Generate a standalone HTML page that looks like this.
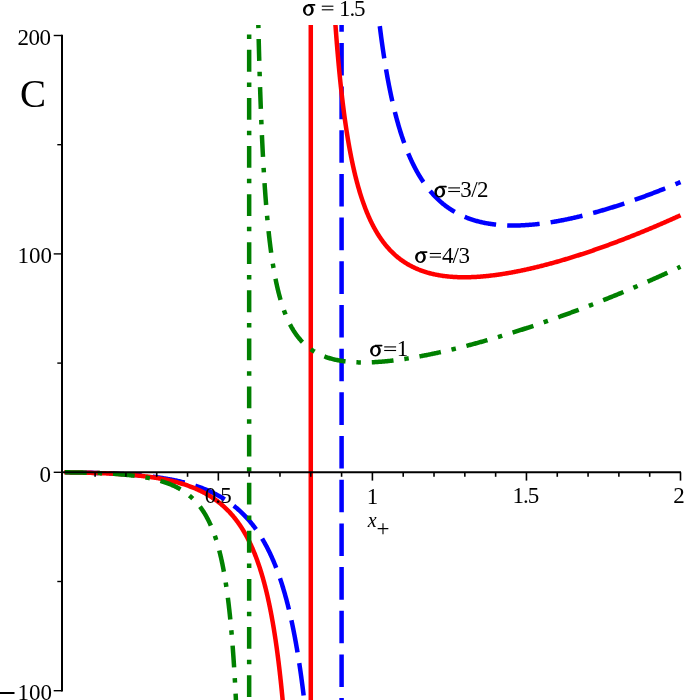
<!DOCTYPE html>
<html><head><meta charset="utf-8"><style>
html,body{margin:0;padding:0;background:#fff;overflow:hidden}
svg{display:block}
</style></head><body>
<svg width="685" height="700" viewBox="0 0 685 700">
<defs><clipPath id="c"><rect x="0" y="25" width="685" height="690"/></clipPath></defs>
<rect width="685" height="700" fill="#fff"/>
<g clip-path="url(#c)" fill="none" stroke-width="4.5" stroke-linejoin="round">
<path d="M64.30,472.30 L65.22,472.31 L66.15,472.32 L67.07,472.34 L68.00,472.35 L68.92,472.37 L69.85,472.38 L70.77,472.40 L71.69,472.41 L72.62,472.43 L73.54,472.44 L74.47,472.46 L75.39,472.47 L76.32,472.49 L77.24,472.51 L78.16,472.53 L79.09,472.54 L80.01,472.56 L80.94,472.58 L81.86,472.60 L82.79,472.62 L83.71,472.64 L84.63,472.66 L85.56,472.68 L86.48,472.70 L87.41,472.72 L88.33,472.74 L89.26,472.76 L90.18,472.78 L91.11,472.81 L92.03,472.83 L92.95,472.86 L93.88,472.88 L94.80,472.91 L95.73,472.93 L96.65,472.96 L97.58,472.99 L98.50,473.01 L99.42,473.04 L100.35,473.07 L101.27,473.10 L102.20,473.13 L103.12,473.16 L104.05,473.20 L104.97,473.23 L105.89,473.26 L106.82,473.30 L107.74,473.34 L108.67,473.37 L109.59,473.41 L110.52,473.45 L111.44,473.49 L112.36,473.53 L113.29,473.57 L114.21,473.61 L115.14,473.66 L116.06,473.70 L116.99,473.75 L117.91,473.80 L118.83,473.85 L119.76,473.90 L120.68,473.95 L121.61,474.00 L122.53,474.05 L123.46,474.11 L124.38,474.16 L125.30,474.22 L126.23,474.28 L127.15,474.34 L128.08,474.40 L129.00,474.47 L129.93,474.53 L130.85,474.60 L131.77,474.67 L132.70,474.74 L133.62,474.81 L134.55,474.88 L135.47,474.96 L136.40,475.03 L137.32,475.11 L138.24,475.19 L139.16,475.27 L140.08,475.36 L140.99,475.44 L141.91,475.53 L142.82,475.62 L143.73,475.71 L144.64,475.80 L145.54,475.90 L146.45,475.99 L147.35,476.09 L148.25,476.19 L149.15,476.29 L150.05,476.40 L150.94,476.50 L151.84,476.61 L152.73,476.72 L153.61,476.83 L154.50,476.95 L155.39,477.07 L156.27,477.18 L157.15,477.30 L158.03,477.43 L158.90,477.55 L159.78,477.68 L160.65,477.81 L161.52,477.94 L162.38,478.08 L163.25,478.21 L164.11,478.35 L164.97,478.50 L165.83,478.64 L166.68,478.79 L167.54,478.93 L168.39,479.09 L169.23,479.24 L170.08,479.40 L170.92,479.56 L171.76,479.72 L172.60,479.88 L173.43,480.05 L174.27,480.22 L175.10,480.39 L175.92,480.56 L176.75,480.74 L177.57,480.92 L178.39,481.10 L179.20,481.29 L180.02,481.48 L180.83,481.67 L181.64,481.86 L182.44,482.06 L183.24,482.26 L184.04,482.46 L184.84,482.67 L185.63,482.87 L186.42,483.09 L187.21,483.30 L188.00,483.52 L188.78,483.74 L189.56,483.96 L190.33,484.18 L191.11,484.41 L191.88,484.65 L192.64,484.88 L193.41,485.12 L194.17,485.36 L194.92,485.60 L195.68,485.85 L196.43,486.10 L197.18,486.36 L197.92,486.61 L198.67,486.87 L199.41,487.14 L200.14,487.40 L200.87,487.67 L201.60,487.94 L202.33,488.22 L203.05,488.50 L203.77,488.78 L204.49,489.07 L205.20,489.36 L205.91,489.65 L206.62,489.94 L207.32,490.24 L208.02,490.55 L208.72,490.85 L209.41,491.16 L210.10,491.47 L210.79,491.79 L211.47,492.11 L212.16,492.43 L212.83,492.75 L213.51,493.08 L214.18,493.42 L214.84,493.75 L215.51,494.09 L216.17,494.43 L216.82,494.78 L217.48,495.13 L218.13,495.48 L218.77,495.84 L219.42,496.20 L220.06,496.56 L220.69,496.92 L221.33,497.29 L221.96,497.67 L222.58,498.04 L223.20,498.42 L223.82,498.81 L224.44,499.19 L225.05,499.58 L225.66,499.98 L226.27,500.37 L226.87,500.77 L227.47,501.18 L228.07,501.58 L228.66,502.00 L229.25,502.41 L229.83,502.83 L230.41,503.25 L230.99,503.67 L231.57,504.10 L232.14,504.53 L232.71,504.96 L233.28,505.40 L233.84,505.84 L234.40,506.29 L234.95,506.73 L235.50,507.18 L236.05,507.64 L236.60,508.10 L237.14,508.56 L237.68,509.02 L238.21,509.49 L238.75,509.96 L239.28,510.43 L239.80,510.91 L240.32,511.39 L240.84,511.88 L241.36,512.36 L241.87,512.85 L242.38,513.35 L242.89,513.84 L243.39,514.34 L243.89,514.85 L244.39,515.35 L244.88,515.86 L245.37,516.38 L245.86,516.89 L246.34,517.41 L246.82,517.93 L247.30,518.46 L247.78,518.99 L248.25,519.52 L248.72,520.05 L249.18,520.59 L249.64,521.13 L250.10,521.68 L250.56,522.22 L251.01,522.77 L251.46,523.33 L251.91,523.88 L252.36,524.44 L252.80,525.00 L253.24,525.57 L253.67,526.13 L254.11,526.70 L254.54,527.28 L254.96,527.85 L255.39,528.43 L255.81,529.02 L256.23,529.60 L256.64,530.19 L257.06,530.78 L257.47,531.37 L257.87,531.97 L258.28,532.57 L258.68,533.17 L259.08,533.77 L259.48,534.38 L259.87,534.99 L260.26,535.60 L260.65,536.22 L261.04,536.83 L261.42,537.45 L261.80,538.08 L262.18,538.70 L262.55,539.33 L262.93,539.96 L263.30,540.59 L263.66,541.23 L264.03,541.87 L264.39,542.51 L264.75,543.15 L265.11,543.80 L265.46,544.45 L265.82,545.10 L266.17,545.75 L266.52,546.40 L266.86,547.06 L267.20,547.72 L267.55,548.38 L267.88,549.05 L268.22,549.72 L268.55,550.39 L268.89,551.06 L269.22,551.73 L269.54,552.41 L269.87,553.09 L270.19,553.77 L270.51,554.45 L270.83,555.14 L271.14,555.82 L271.46,556.51 L271.77,557.21 L272.08,557.90 L272.39,558.59 L272.69,559.29 L273.00,559.99 L273.30,560.70 L273.60,561.40 L273.89,562.11 L274.19,562.81 L274.48,563.53 L274.77,564.24 L275.06,564.95 L275.35,565.67 L275.63,566.39 L275.92,567.11 L276.20,567.83 L276.48,568.55 L276.75,569.28 L277.03,570.01 L277.30,570.74 L277.57,571.47 L277.84,572.20 L278.11,572.94 L278.38,573.67 L278.64,574.41 L278.91,575.15 L279.17,575.90 L279.43,576.64 L279.68,577.39 L279.94,578.13 L280.19,578.88 L280.45,579.64 L280.70,580.39 L280.95,581.14 L281.19,581.90 L281.44,582.66 L281.68,583.42 L281.92,584.18 L282.16,584.94 L282.40,585.70 L282.64,586.47 L282.88,587.24 L283.11,588.01 L283.34,588.78 L283.58,589.55 L283.81,590.32 L284.03,591.10 L284.26,591.87 L284.49,592.65 L284.71,593.43 L284.93,594.21 L285.15,595.00 L285.37,595.78 L285.59,596.56 L285.81,597.35 L286.02,598.14 L286.23,598.93 L286.45,599.72 L286.66,600.51 L286.87,601.31 L287.08,602.10 L287.28,602.90 L287.49,603.70 L287.69,604.49 L287.90,605.29 L288.10,606.10 L288.30,606.90 L288.50,607.70 L288.69,608.51 L288.89,609.32 L289.09,610.12 L289.28,610.93 L289.47,611.74 L289.66,612.56 L289.85,613.37 L290.04,614.18 L290.23,615.00 L290.42,615.81 L290.60,616.63 L290.79,617.45 L290.97,618.27 L291.15,619.09 L291.33,619.91 L291.51,620.74 L291.69,621.56 L291.87,622.39 L292.05,623.21 L292.22,624.04 L292.40,624.87 L292.57,625.70 L292.74,626.53 L292.91,627.36 L293.08,628.20 L293.25,629.03 L293.42,629.87 L293.59,630.70 L293.75,631.54 L293.92,632.38 L294.08,633.22 L294.24,634.06 L294.41,634.90 L294.57,635.74 L294.73,636.58 L294.89,637.43 L295.04,638.27 L295.20,639.12 L295.36,639.96 L295.51,640.81 L295.67,641.66 L295.82,642.51 L295.97,643.36 L296.12,644.21 L296.27,645.06 L296.42,645.92 L296.57,646.77 L296.72,647.63 L296.87,648.48 L297.01,649.34 L297.16,650.20 L297.30,651.05 L297.45,651.91 L297.59,652.77 L297.73,653.63 L297.87,654.50 L298.01,655.36 L298.15,656.22 L298.29,657.09 L298.43,657.95 L298.57,658.82 L298.70,659.68 L298.84,660.55 L298.98,661.42 L299.11,662.29 L299.24,663.16 L299.38,664.03 L299.51,664.90 L299.64,665.77 L299.77,666.64 L299.90,667.52 L300.03,668.39 L300.16,669.26 L300.28,670.14 L300.41,671.02 L300.54,671.89 L300.66,672.77 L300.79,673.65 L300.91,674.53 L301.03,675.41 L301.16,676.29 L301.28,677.17 L301.40,678.05 L301.52,678.93 L301.64,679.81 L301.76,680.70 L301.88,681.58 L301.99,682.47 L302.11,683.35 L302.23,684.24 L302.34,685.12 L302.46,686.01 L302.57,686.90 L302.69,687.79 L302.80,688.68 L302.92,689.57 L303.03,690.46 L303.14,691.35 L303.25,692.24 L303.36,693.13 L303.47,694.02 L303.58,694.92 L303.69,695.81 L303.80,696.71 L303.91,697.60 L304.01,698.50 L304.12,699.39 L304.22,700.29 L304.33,701.19 L304.43,702.08 L304.54,702.98 L304.64,703.88 L304.75,704.78 L304.85,705.68 L304.95,706.58 L305.05,707.48 L305.15,708.38 L305.25,709.29 L305.35,710.19 L305.45,711.09 L305.55,711.99 L305.65,712.90 L305.75,713.80 L305.85,714.71 L305.94,715.61" stroke="#0000ff" stroke-dasharray="32.5 11.1" stroke-dashoffset="42.20"/>
<path d="M341.59,25 L341.59,705" stroke="#0000ff" stroke-dasharray="32.6 11.08" stroke-dashoffset="25.78"/>
<path d="M377.87,9.86 L377.97,10.76 L378.07,11.66 L378.17,12.56 L378.27,13.46 L378.38,14.36 L378.48,15.26 L378.58,16.16 L378.69,17.06 L378.79,17.96 L378.90,18.86 L379.01,19.75 L379.11,20.65 L379.22,21.54 L379.33,22.44 L379.44,23.33 L379.54,24.23 L379.65,25.12 L379.76,26.01 L379.88,26.90 L379.99,27.80 L380.10,28.69 L380.21,29.58 L380.32,30.47 L380.44,31.35 L380.55,32.24 L380.67,33.13 L380.78,34.02 L380.90,34.90 L381.02,35.79 L381.13,36.68 L381.25,37.56 L381.37,38.44 L381.49,39.33 L381.61,40.21 L381.73,41.09 L381.85,41.97 L381.98,42.85 L382.10,43.73 L382.22,44.61 L382.35,45.49 L382.47,46.37 L382.60,47.25 L382.72,48.12 L382.85,49.00 L382.98,49.87 L383.11,50.75 L383.24,51.62 L383.37,52.49 L383.50,53.37 L383.63,54.24 L383.76,55.11 L383.89,55.98 L384.03,56.85 L384.16,57.71 L384.30,58.58 L384.43,59.45 L384.57,60.31 L384.71,61.18 L384.85,62.04 L384.99,62.91 L385.13,63.77 L385.27,64.63 L385.41,65.49 L385.55,66.35 L385.70,67.21 L385.84,68.07 L385.99,68.93 L386.13,69.79 L386.28,70.64 L386.43,71.50 L386.58,72.35 L386.73,73.20 L386.88,74.06 L387.03,74.91 L387.18,75.76 L387.33,76.61 L387.49,77.46 L387.64,78.30 L387.80,79.15 L387.96,80.00 L388.12,80.84 L388.27,81.69 L388.43,82.53 L388.60,83.37 L388.76,84.21 L388.92,85.05 L389.09,85.89 L389.25,86.73 L389.42,87.57 L389.58,88.40 L389.75,89.24 L389.92,90.07 L390.09,90.90 L390.26,91.73 L390.44,92.57 L390.61,93.39 L390.78,94.22 L390.96,95.05 L391.14,95.88 L391.31,96.70 L391.49,97.53 L391.67,98.35 L391.86,99.17 L392.04,99.99 L392.22,100.81 L392.41,101.63 L392.59,102.45 L392.78,103.26 L392.97,104.08 L393.16,104.89 L393.35,105.70 L393.54,106.51 L393.74,107.32 L393.93,108.13 L394.13,108.94 L394.33,109.74 L394.52,110.55 L394.72,111.35 L394.93,112.15 L395.13,112.95 L395.33,113.75 L395.54,114.55 L395.75,115.35 L395.95,116.14 L396.16,116.94 L396.37,117.73 L396.59,118.52 L396.80,119.31 L397.02,120.10 L397.23,120.88 L397.45,121.67 L397.67,122.45 L397.89,123.23 L398.12,124.01 L398.34,124.79 L398.57,125.57 L398.79,126.35 L399.02,127.12 L399.25,127.89 L399.48,128.67 L399.72,129.44 L399.95,130.20 L400.19,130.97 L400.43,131.73 L400.67,132.50 L400.91,133.26 L401.15,134.02 L401.40,134.78 L401.65,135.53 L401.89,136.29 L402.15,137.04 L402.40,137.79 L402.65,138.54 L402.91,139.29 L403.16,140.04 L403.42,140.78 L403.69,141.52 L403.95,142.26 L404.21,143.00 L404.48,143.74 L404.75,144.47 L405.02,145.21 L405.29,145.94 L405.57,146.67 L405.84,147.39 L406.12,148.12 L406.40,148.84 L406.68,149.56 L406.97,150.28 L407.26,151.00 L407.54,151.71 L407.83,152.43 L408.13,153.14 L408.42,153.85 L408.72,154.55 L409.02,155.26 L409.32,155.96 L409.62,156.66 L409.93,157.36 L410.24,158.05 L410.55,158.75 L410.86,159.44 L411.18,160.13 L411.49,160.81 L411.81,161.50 L412.13,162.18 L412.46,162.86 L412.78,163.54 L413.11,164.21 L413.45,164.88 L413.78,165.55 L414.12,166.22 L414.45,166.88 L414.80,167.55 L415.14,168.21 L415.49,168.86 L415.84,169.52 L416.19,170.17 L416.54,170.82 L416.90,171.47 L417.26,172.11 L417.62,172.75 L417.98,173.39 L418.35,174.03 L418.72,174.66 L419.10,175.29 L419.47,175.92 L419.85,176.54 L420.23,177.17 L420.62,177.79 L421.00,178.40 L421.39,179.02 L421.79,179.63 L422.18,180.23 L422.58,180.84 L422.98,181.44 L423.39,182.04 L423.80,182.64 L424.21,183.23 L424.62,183.82 L425.04,184.40 L425.46,184.99 L425.88,185.57 L426.31,186.14 L426.74,186.72 L427.17,187.29 L427.61,187.86 L428.05,188.42 L428.49,188.98 L428.94,189.54 L429.39,190.09 L429.84,190.64 L430.30,191.19 L430.76,191.73 L431.22,192.27 L431.69,192.81 L432.16,193.35 L432.63,193.88 L433.11,194.40 L433.59,194.92 L434.07,195.44 L434.56,195.96 L435.05,196.47 L435.55,196.98 L436.05,197.48 L436.55,197.98 L437.06,198.48 L437.57,198.98 L438.08,199.46 L438.60,199.95 L439.12,200.43 L439.65,200.91 L440.18,201.38 L440.71,201.86 L441.25,202.32 L441.79,202.78 L442.34,203.24 L442.88,203.70 L443.44,204.15 L444.00,204.59 L444.56,205.03 L445.12,205.47 L445.69,205.91 L446.27,206.34 L446.84,206.76 L447.43,207.18 L448.01,207.60 L448.60,208.01 L449.20,208.42 L449.80,208.83 L450.40,209.23 L451.01,209.62 L451.62,210.01 L452.24,210.40 L452.86,210.78 L453.49,211.16 L454.12,211.53 L454.75,211.90 L455.39,212.27 L456.03,212.63 L456.68,212.98 L457.33,213.33 L457.99,213.68 L458.65,214.02 L459.32,214.36 L459.99,214.69 L460.66,215.02 L461.35,215.34 L462.03,215.66 L462.72,215.97 L463.41,216.28 L464.11,216.59 L464.82,216.89 L465.53,217.18 L466.24,217.47 L466.96,217.76 L467.68,218.04 L468.41,218.31 L469.14,218.58 L469.88,218.85 L470.63,219.11 L471.37,219.36 L472.13,219.61 L472.88,219.86 L473.65,220.10 L474.42,220.33 L475.19,220.56 L475.97,220.79 L476.75,221.01 L477.54,221.22 L478.33,221.43 L479.13,221.64 L479.93,221.84 L480.74,222.03 L481.55,222.22 L482.37,222.41 L483.20,222.59 L484.03,222.76 L484.86,222.93 L485.70,223.09 L486.55,223.25 L487.40,223.40 L488.25,223.55 L489.11,223.69 L489.98,223.83 L490.85,223.96 L491.73,224.09 L492.61,224.21 L493.49,224.33 L494.39,224.44 L495.28,224.54 L496.19,224.64 L497.10,224.74 L498.01,224.83 L498.93,224.91 L499.85,224.99 L500.78,225.06 L501.70,225.13 L502.63,225.19 L503.55,225.25 L504.47,225.30 L505.40,225.34 L506.32,225.38 L507.25,225.42 L508.17,225.44 L509.10,225.47 L510.02,225.49 L510.94,225.50 L511.87,225.51 L512.79,225.52 L513.72,225.52 L514.64,225.51 L515.57,225.50 L516.49,225.49 L517.41,225.47 L518.34,225.45 L519.26,225.42 L520.19,225.39 L521.11,225.36 L522.04,225.32 L522.96,225.28 L523.88,225.23 L524.81,225.18 L525.73,225.12 L526.66,225.06 L527.58,225.00 L528.51,224.93 L529.43,224.86 L530.35,224.79 L531.27,224.71 L532.19,224.63 L533.11,224.55 L534.02,224.46 L534.93,224.37 L535.83,224.27 L536.73,224.18 L537.63,224.08 L538.53,223.98 L539.42,223.87 L540.31,223.77 L541.20,223.66 L542.09,223.54 L542.97,223.43 L543.85,223.31 L544.73,223.19 L545.61,223.07 L546.48,222.94 L547.35,222.82 L548.22,222.69 L549.09,222.55 L549.95,222.42 L550.82,222.28 L551.68,222.15 L552.54,222.01 L553.39,221.86 L554.25,221.72 L555.10,221.57 L555.95,221.43 L556.80,221.27 L557.65,221.12 L558.49,220.97 L559.33,220.81 L560.17,220.66 L561.01,220.50 L561.85,220.33 L562.69,220.17 L563.52,220.01 L564.36,219.84 L565.19,219.67 L566.02,219.50 L566.84,219.33 L567.67,219.16 L568.50,218.99 L569.32,218.81 L570.14,218.63 L570.96,218.45 L571.78,218.27 L572.60,218.09 L573.41,217.91 L574.23,217.72 L575.04,217.54 L575.85,217.35 L576.66,217.16 L577.47,216.97 L578.28,216.78 L579.08,216.59 L579.89,216.39 L580.69,216.20 L581.50,216.00 L582.30,215.80 L583.10,215.60 L583.90,215.40 L584.69,215.20 L585.49,215.00 L586.29,214.79 L587.08,214.59 L587.87,214.38 L588.66,214.17 L589.45,213.97 L590.24,213.76 L591.03,213.54 L591.82,213.33 L592.61,213.12 L593.39,212.91 L594.17,212.69 L594.96,212.47 L595.74,212.26 L596.52,212.04 L597.30,211.82 L598.08,211.60 L598.86,211.38 L599.63,211.15 L600.41,210.93 L601.18,210.71 L601.96,210.48 L602.73,210.25 L603.50,210.03 L604.27,209.80 L605.04,209.57 L605.81,209.34 L606.58,209.11 L607.35,208.88 L608.12,208.64 L608.88,208.41 L609.65,208.18 L610.41,207.94 L611.17,207.70 L611.94,207.47 L612.70,207.23 L613.46,206.99 L614.22,206.75 L614.98,206.51 L615.73,206.27 L616.49,206.02 L617.25,205.78 L618.00,205.54 L618.76,205.29 L619.51,205.05 L620.27,204.80 L621.02,204.55 L621.77,204.31 L622.52,204.06 L623.27,203.81 L624.02,203.56 L624.77,203.31 L625.52,203.06 L626.26,202.80 L627.01,202.55 L627.76,202.30 L628.50,202.04 L629.24,201.79 L629.99,201.53 L630.73,201.27 L631.47,201.02 L632.21,200.76 L632.96,200.50 L633.70,200.24 L634.43,199.98 L635.17,199.72 L635.91,199.46 L636.65,199.19 L637.39,198.93 L638.12,198.67 L638.86,198.40 L639.59,198.14 L640.32,197.87 L641.06,197.61 L641.79,197.34 L642.52,197.07 L643.25,196.80 L643.99,196.54 L644.72,196.27 L645.45,196.00 L646.17,195.73 L646.90,195.45 L647.63,195.18 L648.36,194.91 L649.08,194.64 L649.81,194.36 L650.54,194.09 L651.26,193.81 L651.98,193.54 L652.71,193.26 L653.43,192.99 L654.15,192.71 L654.87,192.43 L655.60,192.15 L656.32,191.87 L657.04,191.59 L657.76,191.31 L658.48,191.03 L659.19,190.75 L659.91,190.47 L660.63,190.19 L661.35,189.91 L662.06,189.62 L662.78,189.34 L663.49,189.05 L664.21,188.77 L664.92,188.48 L665.63,188.20 L666.35,187.91 L667.06,187.62 L667.77,187.34 L668.48,187.05 L669.19,186.76 L669.90,186.47 L670.61,186.18 L671.32,185.89 L672.03,185.60 L672.74,185.31 L673.45,185.02 L674.16,184.72 L674.86,184.43 L675.57,184.14 L676.28,183.84 L676.98,183.55 L677.69,183.25 L678.39,182.96 L679.09,182.66 L679.80,182.37 L680.50,182.07" stroke="#0000ff" stroke-dasharray="32.5 11.1" stroke-dashoffset="27.19"/>
<path d="M64.30,472.30 L65.22,472.31 L66.15,472.33 L67.07,472.34 L68.00,472.35 L68.92,472.37 L69.85,472.39 L70.77,472.40 L71.69,472.42 L72.62,472.43 L73.54,472.45 L74.47,472.47 L75.39,472.49 L76.32,472.50 L77.24,472.52 L78.16,472.54 L79.09,472.56 L80.01,472.58 L80.94,472.60 L81.86,472.62 L82.79,472.64 L83.71,472.66 L84.63,472.68 L85.56,472.71 L86.48,472.73 L87.41,472.75 L88.33,472.78 L89.26,472.80 L90.18,472.83 L91.11,472.85 L92.03,472.88 L92.95,472.90 L93.88,472.93 L94.80,472.96 L95.73,472.99 L96.65,473.02 L97.58,473.05 L98.50,473.08 L99.42,473.11 L100.35,473.15 L101.27,473.18 L102.20,473.21 L103.12,473.25 L104.05,473.29 L104.97,473.32 L105.89,473.36 L106.82,473.40 L107.74,473.44 L108.67,473.48 L109.59,473.52 L110.52,473.57 L111.44,473.61 L112.36,473.66 L113.29,473.71 L114.21,473.75 L115.14,473.80 L116.06,473.86 L116.99,473.91 L117.91,473.96 L118.83,474.02 L119.76,474.07 L120.68,474.13 L121.61,474.19 L122.53,474.25 L123.46,474.31 L124.38,474.38 L125.30,474.44 L126.23,474.51 L127.15,474.58 L128.08,474.65 L129.00,474.72 L129.93,474.80 L130.85,474.88 L131.77,474.95 L132.69,475.03 L133.61,475.12 L134.53,475.20 L135.45,475.29 L136.36,475.37 L137.27,475.46 L138.18,475.55 L139.09,475.65 L139.99,475.74 L140.90,475.84 L141.80,475.94 L142.70,476.04 L143.59,476.15 L144.49,476.25 L145.38,476.36 L146.27,476.47 L147.16,476.58 L148.05,476.70 L148.93,476.82 L149.81,476.94 L150.69,477.06 L151.57,477.18 L152.44,477.31 L153.32,477.44 L154.18,477.57 L155.05,477.71 L155.92,477.84 L156.78,477.98 L157.64,478.13 L158.49,478.27 L159.35,478.42 L160.20,478.57 L161.05,478.72 L161.89,478.88 L162.74,479.04 L163.58,479.20 L164.41,479.36 L165.25,479.53 L166.08,479.70 L166.91,479.87 L167.74,480.05 L168.56,480.23 L169.38,480.41 L170.20,480.59 L171.01,480.78 L171.82,480.97 L172.63,481.17 L173.43,481.36 L174.23,481.56 L175.03,481.77 L175.83,481.97 L176.62,482.18 L177.41,482.40 L178.19,482.61 L178.98,482.83 L179.76,483.06 L180.53,483.28 L181.30,483.51 L182.07,483.75 L182.84,483.98 L183.60,484.22 L184.36,484.47 L185.12,484.71 L185.87,484.96 L186.62,485.22 L187.36,485.47 L188.10,485.74 L188.84,486.00 L189.57,486.27 L190.30,486.54 L191.03,486.82 L191.75,487.09 L192.47,487.38 L193.19,487.66 L193.90,487.95 L194.61,488.25 L195.32,488.55 L196.02,488.85 L196.72,489.15 L197.41,489.46 L198.10,489.77 L198.79,490.09 L199.47,490.41 L200.15,490.73 L200.82,491.06 L201.50,491.39 L202.16,491.73 L202.83,492.07 L203.49,492.41 L204.14,492.75 L204.80,493.11 L205.45,493.46 L206.09,493.82 L206.73,494.18 L207.37,494.55 L208.00,494.92 L208.63,495.29 L209.26,495.67 L209.88,496.05 L210.50,496.43 L211.11,496.82 L211.72,497.22 L212.33,497.61 L212.93,498.01 L213.53,498.42 L214.12,498.83 L214.71,499.24 L215.30,499.66 L215.88,500.08 L216.46,500.50 L217.04,500.93 L217.61,501.36 L218.17,501.80 L218.74,502.24 L219.30,502.68 L219.85,503.13 L220.41,503.58 L220.96,504.03 L221.50,504.49 L222.04,504.96 L222.58,505.42 L223.11,505.89 L223.64,506.37 L224.17,506.84 L224.69,507.33 L225.21,507.81 L225.72,508.30 L226.23,508.79 L226.74,509.29 L227.24,509.79 L227.74,510.29 L228.24,510.80 L228.73,511.31 L229.22,511.83 L229.71,512.34 L230.19,512.87 L230.67,513.39 L231.14,513.92 L231.61,514.45 L232.08,514.99 L232.54,515.53 L233.00,516.07 L233.46,516.62 L233.91,517.17 L234.36,517.73 L234.81,518.28 L235.25,518.84 L235.69,519.41 L236.13,519.97 L236.56,520.55 L236.99,521.12 L237.42,521.70 L237.84,522.28 L238.26,522.86 L238.68,523.45 L239.09,524.04 L239.50,524.63 L239.91,525.23 L240.31,525.83 L240.71,526.44 L241.11,527.04 L241.50,527.65 L241.89,528.27 L242.28,528.88 L242.67,529.50 L243.05,530.12 L243.43,530.75 L243.80,531.38 L244.18,532.01 L244.54,532.64 L244.91,533.28 L245.28,533.92 L245.64,534.56 L245.99,535.21 L246.35,535.86 L246.70,536.51 L247.05,537.16 L247.40,537.82 L247.74,538.48 L248.08,539.14 L248.42,539.81 L248.76,540.48 L249.09,541.15 L249.42,541.82 L249.75,542.50 L250.08,543.18 L250.40,543.86 L250.72,544.54 L251.04,545.23 L251.35,545.92 L251.66,546.61 L251.97,547.30 L252.28,548.00 L252.58,548.70 L252.89,549.40 L253.19,550.10 L253.48,550.81 L253.78,551.52 L254.07,552.23 L254.36,552.94 L254.65,553.66 L254.94,554.38 L255.22,555.10 L255.50,555.82 L255.78,556.55 L256.06,557.27 L256.33,558.00 L256.61,558.73 L256.88,559.47 L257.14,560.20 L257.41,560.94 L257.67,561.68 L257.94,562.42 L258.20,563.17 L258.45,563.91 L258.71,564.66 L258.96,565.41 L259.22,566.16 L259.47,566.92 L259.71,567.67 L259.96,568.43 L260.20,569.19 L260.44,569.95 L260.68,570.72 L260.92,571.48 L261.16,572.25 L261.39,573.02 L261.63,573.79 L261.86,574.56 L262.09,575.34 L262.31,576.12 L262.54,576.89 L262.76,577.67 L262.99,578.46 L263.21,579.24 L263.42,580.03 L263.64,580.81 L263.86,581.60 L264.07,582.39 L264.28,583.18 L264.49,583.98 L264.70,584.77 L264.91,585.57 L265.12,586.37 L265.32,587.16 L265.52,587.97 L265.72,588.77 L265.92,589.57 L266.12,590.38 L266.32,591.19 L266.51,591.99 L266.71,592.80 L266.90,593.62 L267.09,594.43 L267.28,595.24 L267.47,596.06 L267.65,596.88 L267.84,597.70 L268.02,598.52 L268.20,599.34 L268.38,600.16 L268.56,600.98 L268.74,601.81 L268.92,602.64 L269.10,603.46 L269.27,604.29 L269.44,605.12 L269.62,605.95 L269.79,606.79 L269.96,607.62 L270.12,608.46 L270.29,609.29 L270.46,610.13 L270.62,610.97 L270.79,611.81 L270.95,612.65 L271.11,613.49 L271.27,614.34 L271.43,615.18 L271.59,616.03 L271.74,616.87 L271.90,617.72 L272.05,618.57 L272.21,619.42 L272.36,620.27 L272.51,621.12 L272.66,621.98 L272.81,622.83 L272.96,623.69 L273.10,624.54 L273.25,625.40 L273.40,626.26 L273.54,627.12 L273.68,627.98 L273.82,628.84 L273.97,629.70 L274.11,630.57 L274.24,631.43 L274.38,632.30 L274.52,633.16 L274.66,634.03 L274.79,634.90 L274.93,635.77 L275.06,636.64 L275.19,637.51 L275.32,638.38 L275.46,639.25 L275.59,640.12 L275.72,641.00 L275.84,641.87 L275.97,642.75 L276.10,643.62 L276.22,644.50 L276.35,645.38 L276.47,646.26 L276.60,647.14 L276.72,648.02 L276.84,648.90 L276.96,649.78 L277.08,650.67 L277.20,651.55 L277.32,652.44 L277.44,653.32 L277.55,654.21 L277.67,655.09 L277.79,655.98 L277.90,656.87 L278.02,657.76 L278.13,658.65 L278.24,659.54 L278.35,660.43 L278.47,661.32 L278.58,662.21 L278.69,663.11 L278.80,664.00 L278.90,664.90 L279.01,665.79 L279.12,666.69 L279.23,667.58 L279.33,668.48 L279.44,669.38 L279.54,670.28 L279.65,671.18 L279.75,672.08 L279.85,672.98 L279.95,673.88 L280.05,674.78 L280.16,675.68 L280.26,676.58 L280.35,677.49 L280.45,678.39 L280.55,679.30 L280.65,680.20 L280.75,681.11 L280.84,682.01 L280.94,682.92 L281.04,683.83 L281.13,684.74 L281.22,685.65 L281.32,686.55 L281.41,687.46 L281.50,688.37 L281.60,689.29 L281.69,690.20 L281.78,691.11 L281.87,692.02 L281.96,692.93 L282.05,693.85 L282.14,694.76 L282.23,695.68 L282.31,696.59 L282.40,697.51 L282.49,698.42 L282.58,699.34 L282.66,700.26 L282.75,701.17 L282.83,702.09 L282.92,703.01 L283.00,703.93 L283.08,704.85 L283.17,705.77 L283.25,706.69 L283.33,707.61 L283.41,708.53 L283.49,709.45 L283.58,710.37 L283.66,711.30 L283.74,712.22 L283.81,713.14 L283.89,714.07 L283.97,714.99 L284.05,715.91" stroke="#ff0000"/>
<path d="M310.78,25 L310.78,705" stroke="#ff0000"/>
<path d="M334.39,9.38 L334.45,10.32 L334.51,11.26 L334.57,12.20 L334.64,13.14 L334.70,14.08 L334.76,15.02 L334.83,15.96 L334.89,16.90 L334.96,17.84 L335.02,18.77 L335.09,19.71 L335.15,20.65 L335.22,21.58 L335.28,22.52 L335.35,23.46 L335.42,24.39 L335.48,25.33 L335.55,26.26 L335.62,27.20 L335.69,28.13 L335.75,29.07 L335.82,30.00 L335.89,30.94 L335.96,31.87 L336.03,32.80 L336.10,33.73 L336.17,34.67 L336.24,35.60 L336.31,36.53 L336.39,37.46 L336.46,38.39 L336.53,39.32 L336.60,40.25 L336.68,41.18 L336.75,42.11 L336.82,43.04 L336.90,43.97 L336.97,44.89 L337.05,45.82 L337.13,46.75 L337.20,47.67 L337.28,48.60 L337.35,49.53 L337.43,50.45 L337.51,51.38 L337.59,52.30 L337.67,53.22 L337.75,54.15 L337.83,55.07 L337.91,55.99 L337.99,56.92 L338.07,57.84 L338.15,58.76 L338.23,59.68 L338.31,60.60 L338.40,61.52 L338.48,62.44 L338.56,63.36 L338.65,64.28 L338.73,65.20 L338.82,66.11 L338.90,67.03 L338.99,67.95 L339.08,68.86 L339.16,69.78 L339.25,70.70 L339.34,71.61 L339.43,72.52 L339.52,73.44 L339.61,74.35 L339.70,75.26 L339.79,76.18 L339.88,77.09 L339.97,78.00 L340.06,78.91 L340.16,79.82 L340.25,80.73 L340.34,81.64 L340.44,82.55 L340.53,83.45 L340.63,84.36 L340.73,85.27 L340.82,86.17 L340.92,87.08 L341.02,87.98 L341.12,88.89 L341.22,89.79 L341.32,90.70 L341.42,91.60 L341.52,92.50 L341.62,93.40 L341.72,94.30 L341.83,95.20 L341.93,96.10 L342.03,97.00 L342.14,97.90 L342.24,98.80 L342.35,99.69 L342.46,100.59 L342.57,101.48 L342.67,102.38 L342.78,103.27 L342.89,104.17 L343.00,105.06 L343.11,105.95 L343.23,106.84 L343.34,107.73 L343.45,108.62 L343.57,109.51 L343.68,110.40 L343.80,111.29 L343.91,112.17 L344.03,113.06 L344.15,113.95 L344.27,114.83 L344.38,115.72 L344.50,116.60 L344.63,117.48 L344.75,118.36 L344.87,119.24 L344.99,120.12 L345.12,121.00 L345.24,121.88 L345.37,122.76 L345.49,123.64 L345.62,124.51 L345.75,125.39 L345.88,126.26 L346.01,127.13 L346.14,128.01 L346.27,128.88 L346.41,129.75 L346.54,130.62 L346.67,131.49 L346.81,132.35 L346.95,133.22 L347.08,134.09 L347.22,134.95 L347.36,135.82 L347.50,136.68 L347.64,137.54 L347.78,138.40 L347.93,139.26 L348.07,140.12 L348.22,140.98 L348.36,141.84 L348.51,142.70 L348.66,143.55 L348.81,144.40 L348.96,145.26 L349.11,146.11 L349.26,146.96 L349.42,147.81 L349.57,148.66 L349.73,149.51 L349.88,150.35 L350.04,151.20 L350.20,152.04 L350.36,152.89 L350.52,153.73 L350.69,154.57 L350.85,155.41 L351.01,156.25 L351.18,157.09 L351.35,157.92 L351.52,158.76 L351.69,159.59 L351.86,160.42 L352.03,161.25 L352.21,162.08 L352.38,162.91 L352.56,163.74 L352.74,164.56 L352.91,165.39 L353.09,166.21 L353.28,167.03 L353.46,167.85 L353.64,168.67 L353.83,169.49 L354.02,170.31 L354.21,171.12 L354.40,171.94 L354.59,172.75 L354.78,173.56 L354.98,174.37 L355.17,175.18 L355.37,175.98 L355.57,176.79 L355.77,177.59 L355.97,178.39 L356.18,179.19 L356.38,179.99 L356.59,180.79 L356.80,181.58 L357.01,182.37 L357.22,183.17 L357.44,183.96 L357.65,184.74 L357.87,185.53 L358.09,186.32 L358.31,187.10 L358.53,187.88 L358.76,188.66 L358.98,189.44 L359.21,190.21 L359.44,190.99 L359.67,191.76 L359.90,192.53 L360.14,193.30 L360.38,194.07 L360.62,194.83 L360.86,195.60 L361.10,196.36 L361.34,197.12 L361.59,197.87 L361.84,198.63 L362.09,199.38 L362.34,200.13 L362.60,200.88 L362.86,201.63 L363.12,202.37 L363.38,203.12 L363.64,203.86 L363.91,204.59 L364.18,205.33 L364.45,206.06 L364.72,206.80 L364.99,207.53 L365.27,208.25 L365.55,208.98 L365.83,209.70 L366.12,210.42 L366.40,211.14 L366.69,211.85 L366.98,212.57 L367.28,213.28 L367.57,213.98 L367.87,214.69 L368.17,215.39 L368.48,216.09 L368.78,216.79 L369.09,217.49 L369.40,218.18 L369.72,218.87 L370.03,219.56 L370.35,220.24 L370.68,220.92 L371.00,221.60 L371.33,222.28 L371.66,222.95 L371.99,223.62 L372.33,224.29 L372.67,224.96 L373.01,225.62 L373.36,226.28 L373.70,226.93 L374.05,227.59 L374.41,228.24 L374.77,228.88 L375.13,229.53 L375.49,230.17 L375.85,230.81 L376.22,231.44 L376.60,232.07 L376.97,232.70 L377.35,233.33 L377.73,233.95 L378.12,234.57 L378.51,235.18 L378.90,235.79 L379.30,236.40 L379.70,237.01 L380.10,237.61 L380.50,238.21 L380.91,238.80 L381.33,239.40 L381.74,239.98 L382.16,240.57 L382.59,241.15 L383.01,241.72 L383.45,242.30 L383.88,242.87 L384.32,243.43 L384.76,244.00 L385.21,244.55 L385.66,245.11 L386.11,245.66 L386.57,246.21 L387.03,246.75 L387.49,247.29 L387.96,247.82 L388.44,248.35 L388.91,248.88 L389.40,249.40 L389.88,249.92 L390.37,250.44 L390.86,250.95 L391.36,251.45 L391.86,251.96 L392.37,252.45 L392.88,252.95 L393.39,253.44 L393.91,253.92 L394.44,254.40 L394.96,254.88 L395.50,255.35 L396.03,255.82 L396.57,256.28 L397.12,256.74 L397.67,257.20 L398.22,257.65 L398.78,258.09 L399.35,258.53 L399.91,258.97 L400.49,259.40 L401.06,259.82 L401.65,260.25 L402.23,260.66 L402.83,261.08 L403.42,261.48 L404.02,261.89 L404.63,262.29 L405.24,262.68 L405.85,263.07 L406.47,263.45 L407.10,263.83 L407.73,264.20 L408.37,264.57 L409.01,264.94 L409.65,265.29 L410.30,265.65 L410.96,266.00 L411.62,266.34 L412.28,266.68 L412.95,267.01 L413.63,267.34 L414.31,267.67 L414.99,267.98 L415.68,268.30 L416.38,268.60 L417.08,268.91 L417.79,269.20 L418.50,269.50 L419.21,269.78 L419.94,270.07 L420.66,270.34 L421.40,270.61 L422.13,270.88 L422.88,271.14 L423.62,271.39 L424.38,271.64 L425.14,271.89 L425.90,272.13 L426.67,272.36 L427.45,272.59 L428.23,272.81 L429.01,273.03 L429.80,273.24 L430.60,273.45 L431.40,273.65 L432.21,273.85 L433.02,274.04 L433.84,274.22 L434.66,274.40 L435.49,274.58 L436.33,274.75 L437.17,274.91 L438.01,275.07 L438.86,275.22 L439.72,275.37 L440.58,275.51 L441.45,275.64 L442.32,275.77 L443.20,275.90 L444.08,276.02 L444.97,276.13 L445.87,276.24 L446.77,276.34 L447.67,276.44 L448.58,276.53 L449.50,276.62 L450.42,276.70 L451.35,276.78 L452.27,276.85 L453.20,276.91 L454.12,276.97 L455.04,277.02 L455.97,277.07 L456.89,277.11 L457.82,277.15 L458.74,277.18 L459.67,277.20 L460.59,277.23 L461.51,277.24 L462.44,277.25 L463.36,277.26 L464.29,277.26 L465.21,277.26 L466.14,277.25 L467.06,277.24 L467.98,277.23 L468.91,277.21 L469.83,277.18 L470.76,277.15 L471.68,277.12 L472.61,277.08 L473.53,277.04 L474.45,277.00 L475.38,276.95 L476.30,276.90 L477.23,276.84 L478.15,276.78 L479.08,276.72 L480.00,276.65 L480.92,276.58 L481.85,276.50 L482.77,276.43 L483.69,276.35 L484.60,276.26 L485.51,276.18 L486.42,276.09 L487.33,275.99 L488.23,275.90 L489.13,275.80 L490.03,275.70 L490.92,275.60 L491.82,275.49 L492.71,275.38 L493.59,275.27 L494.48,275.16 L495.36,275.04 L496.24,274.92 L497.12,274.80 L498.00,274.68 L498.87,274.56 L499.74,274.43 L500.61,274.30 L501.48,274.17 L502.35,274.04 L503.21,273.90 L504.07,273.76 L504.93,273.63 L505.79,273.48 L506.65,273.34 L507.50,273.20 L508.35,273.05 L509.21,272.90 L510.05,272.75 L510.90,272.60 L511.75,272.45 L512.59,272.29 L513.43,272.14 L514.27,271.98 L515.11,271.82 L515.95,271.66 L516.79,271.49 L517.62,271.33 L518.45,271.16 L519.29,271.00 L520.12,270.83 L520.95,270.66 L521.77,270.48 L522.60,270.31 L523.42,270.14 L524.25,269.96 L525.07,269.78 L525.89,269.60 L526.71,269.42 L527.53,269.24 L528.34,269.06 L529.16,268.88 L529.97,268.69 L530.78,268.50 L531.60,268.32 L532.41,268.13 L533.22,267.94 L534.02,267.75 L534.83,267.55 L535.64,267.36 L536.44,267.17 L537.24,266.97 L538.05,266.77 L538.85,266.57 L539.65,266.38 L540.45,266.18 L541.24,265.97 L542.04,265.77 L542.84,265.57 L543.63,265.36 L544.43,265.16 L545.22,264.95 L546.01,264.74 L546.80,264.54 L547.59,264.33 L548.38,264.12 L549.17,263.90 L549.96,263.69 L550.74,263.48 L551.53,263.26 L552.31,263.05 L553.10,262.83 L553.88,262.62 L554.66,262.40 L555.44,262.18 L556.22,261.96 L557.00,261.74 L557.78,261.52 L558.55,261.30 L559.33,261.07 L560.11,260.85 L560.88,260.62 L561.65,260.40 L562.43,260.17 L563.20,259.95 L563.97,259.72 L564.74,259.49 L565.51,259.26 L566.28,259.03 L567.05,258.80 L567.82,258.57 L568.58,258.33 L569.35,258.10 L570.11,257.86 L570.88,257.63 L571.64,257.39 L572.41,257.16 L573.17,256.92 L573.93,256.68 L574.69,256.44 L575.45,256.20 L576.21,255.96 L576.97,255.72 L577.73,255.48 L578.48,255.24 L579.24,255.00 L580.00,254.75 L580.75,254.51 L581.51,254.26 L582.26,254.02 L583.01,253.77 L583.76,253.52 L584.52,253.28 L585.27,253.03 L586.02,252.78 L586.77,252.53 L587.52,252.28 L588.27,252.03 L589.01,251.78 L589.76,251.52 L590.51,251.27 L591.25,251.02 L592.00,250.76 L592.74,250.51 L593.49,250.25 L594.23,250.00 L594.97,249.74 L595.72,249.48 L596.46,249.22 L597.20,248.97 L597.94,248.71 L598.68,248.45 L599.42,248.19 L600.16,247.93 L600.90,247.67 L601.64,247.40 L602.37,247.14 L603.11,246.88 L603.84,246.61 L604.58,246.35 L605.32,246.09 L606.05,245.82 L606.78,245.55 L607.52,245.29 L608.25,245.02 L608.98,244.75 L609.71,244.49 L610.44,244.22 L611.17,243.95 L611.90,243.68 L612.63,243.41 L613.36,243.14 L614.09,242.87 L614.82,242.59 L615.55,242.32 L616.27,242.05 L617.00,241.78 L617.73,241.50 L618.45,241.23 L619.18,240.95 L619.90,240.68 L620.62,240.40 L621.35,240.13 L622.07,239.85 L622.79,239.57 L623.51,239.29 L624.23,239.01 L624.96,238.74 L625.68,238.46 L626.40,238.18 L627.12,237.90 L627.83,237.62 L628.55,237.33 L629.27,237.05 L629.99,236.77 L630.70,236.49 L631.42,236.20 L632.14,235.92 L632.85,235.64 L633.57,235.35 L634.28,235.07 L635.00,234.78 L635.71,234.50 L636.42,234.21 L637.14,233.92 L637.85,233.63 L638.56,233.35 L639.27,233.06 L639.98,232.77 L640.69,232.48 L641.40,232.19 L642.11,231.90 L642.82,231.61 L643.53,231.32 L644.24,231.03 L644.95,230.74 L645.65,230.44 L646.36,230.15 L647.07,229.86 L647.77,229.56 L648.48,229.27 L649.19,228.98 L649.89,228.68 L650.59,228.39 L651.30,228.09 L652.00,227.79 L652.71,227.50 L653.41,227.20 L654.11,226.90 L654.81,226.61 L655.51,226.31 L656.21,226.01 L656.92,225.71 L657.62,225.41 L658.32,225.11 L659.01,224.81 L659.71,224.51 L660.41,224.21 L661.11,223.91 L661.81,223.60 L662.51,223.30 L663.20,223.00 L663.90,222.70 L664.60,222.39 L665.29,222.09 L665.99,221.78 L666.68,221.48 L667.38,221.17 L668.07,220.87 L668.76,220.56 L669.46,220.26 L670.15,219.95 L670.84,219.64 L671.54,219.34 L672.23,219.03 L672.92,218.72 L673.61,218.41 L674.30,218.10 L674.99,217.79 L675.68,217.48 L676.37,217.17 L677.06,216.86 L677.75,216.55 L678.44,216.24 L679.13,215.93 L679.81,215.62 L680.50,215.30" stroke="#ff0000"/>
<path d="M64.30,472.30 L65.22,472.31 L66.15,472.32 L67.07,472.33 L68.00,472.34 L68.92,472.35 L69.85,472.36 L70.77,472.38 L71.69,472.39 L72.62,472.41 L73.54,472.42 L74.47,472.44 L75.39,472.46 L76.32,472.47 L77.24,472.49 L78.16,472.51 L79.09,472.53 L80.01,472.54 L80.94,472.56 L81.86,472.58 L82.79,472.61 L83.71,472.63 L84.63,472.65 L85.56,472.67 L86.48,472.70 L87.41,472.72 L88.33,472.74 L89.26,472.77 L90.18,472.80 L91.11,472.82 L92.03,472.85 L92.95,472.88 L93.88,472.91 L94.80,472.94 L95.73,472.97 L96.65,473.01 L97.58,473.04 L98.50,473.07 L99.42,473.11 L100.35,473.15 L101.27,473.19 L102.20,473.22 L103.12,473.27 L104.05,473.31 L104.97,473.35 L105.89,473.40 L106.82,473.44 L107.74,473.49 L108.67,473.54 L109.59,473.59 L110.52,473.64 L111.44,473.69 L112.36,473.75 L113.29,473.81 L114.21,473.87 L115.14,473.93 L116.06,473.99 L116.99,474.05 L117.91,474.12 L118.83,474.19 L119.76,474.26 L120.68,474.33 L121.61,474.41 L122.53,474.49 L123.45,474.57 L124.37,474.65 L125.29,474.73 L126.20,474.82 L127.11,474.91 L128.02,475.00 L128.93,475.10 L129.84,475.19 L130.74,475.29 L131.64,475.39 L132.53,475.50 L133.43,475.61 L134.32,475.72 L135.21,475.83 L136.09,475.95 L136.98,476.07 L137.86,476.19 L138.73,476.31 L139.61,476.44 L140.48,476.57 L141.34,476.71 L142.21,476.85 L143.07,476.99 L143.92,477.13 L144.78,477.28 L145.63,477.43 L146.47,477.59 L147.32,477.75 L148.16,477.91 L148.99,478.08 L149.82,478.25 L150.65,478.42 L151.48,478.60 L152.30,478.78 L153.11,478.97 L153.93,479.16 L154.73,479.35 L155.54,479.55 L156.34,479.75 L157.13,479.96 L157.93,480.17 L158.71,480.39 L159.50,480.61 L160.27,480.83 L161.05,481.06 L161.82,481.29 L162.58,481.53 L163.34,481.77 L164.10,482.02 L164.85,482.27 L165.60,482.53 L166.34,482.79 L167.07,483.06 L167.80,483.33 L168.53,483.61 L169.25,483.89 L169.97,484.18 L170.68,484.47 L171.39,484.77 L172.09,485.07 L172.78,485.38 L173.48,485.69 L174.16,486.01 L174.84,486.33 L175.52,486.66 L176.19,486.99 L176.85,487.33 L177.51,487.68 L178.16,488.03 L178.81,488.38 L179.46,488.74 L180.09,489.11 L180.73,489.48 L181.35,489.86 L181.97,490.24 L182.59,490.63 L183.20,491.03 L183.81,491.43 L184.41,491.83 L185.00,492.24 L185.59,492.66 L186.17,493.08 L186.75,493.51 L187.32,493.94 L187.89,494.38 L188.45,494.82 L189.00,495.27 L189.55,495.73 L190.10,496.19 L190.64,496.65 L191.17,497.13 L191.70,497.60 L192.22,498.09 L192.74,498.57 L193.25,499.07 L193.76,499.57 L194.26,500.07 L194.75,500.58 L195.24,501.09 L195.73,501.61 L196.21,502.14 L196.68,502.67 L197.15,503.21 L197.62,503.75 L198.08,504.29 L198.53,504.85 L198.98,505.40 L199.42,505.96 L199.86,506.53 L200.30,507.10 L200.73,507.68 L201.15,508.26 L201.57,508.85 L201.99,509.44 L202.40,510.03 L202.80,510.63 L203.20,511.24 L203.60,511.85 L203.99,512.46 L204.38,513.08 L204.76,513.71 L205.14,514.33 L205.51,514.97 L205.88,515.60 L206.24,516.25 L206.60,516.89 L206.96,517.54 L207.31,518.20 L207.66,518.86 L208.00,519.52 L208.34,520.18 L208.67,520.86 L209.01,521.53 L209.33,522.21 L209.66,522.89 L209.98,523.58 L210.29,524.27 L210.60,524.96 L210.91,525.66 L211.22,526.36 L211.52,527.07 L211.81,527.78 L212.11,528.49 L212.40,529.21 L212.68,529.92 L212.97,530.65 L213.25,531.37 L213.52,532.10 L213.80,532.84 L214.07,533.57 L214.33,534.31 L214.60,535.05 L214.86,535.80 L215.11,536.55 L215.37,537.30 L215.62,538.06 L215.87,538.81 L216.11,539.57 L216.35,540.34 L216.59,541.10 L216.83,541.87 L217.06,542.64 L217.30,543.42 L217.52,544.20 L217.75,544.98 L217.97,545.76 L218.19,546.54 L218.41,547.33 L218.63,548.12 L218.84,548.92 L219.05,549.71 L219.26,550.51 L219.47,551.31 L219.67,552.11 L219.87,552.92 L220.07,553.72 L220.26,554.53 L220.46,555.34 L220.65,556.16 L220.84,556.97 L221.03,557.79 L221.21,558.61 L221.40,559.43 L221.58,560.26 L221.76,561.08 L221.94,561.91 L222.11,562.74 L222.29,563.57 L222.46,564.41 L222.63,565.24 L222.79,566.08 L222.96,566.92 L223.12,567.76 L223.29,568.60 L223.45,569.45 L223.61,570.30 L223.76,571.14 L223.92,571.99 L224.07,572.85 L224.23,573.70 L224.38,574.55 L224.53,575.41 L224.67,576.27 L224.82,577.13 L224.96,577.99 L225.11,578.85 L225.25,579.71 L225.39,580.58 L225.53,581.45 L225.66,582.31 L225.80,583.18 L225.93,584.05 L226.07,584.93 L226.20,585.80 L226.33,586.68 L226.46,587.55 L226.58,588.43 L226.71,589.31 L226.83,590.19 L226.96,591.07 L227.08,591.95 L227.20,592.84 L227.32,593.72 L227.44,594.61 L227.56,595.49 L227.68,596.38 L227.79,597.27 L227.91,598.16 L228.02,599.05 L228.13,599.95 L228.24,600.84 L228.35,601.74 L228.46,602.63 L228.57,603.53 L228.68,604.43 L228.78,605.33 L228.89,606.23 L228.99,607.13 L229.09,608.03 L229.19,608.93 L229.30,609.83 L229.40,610.74 L229.49,611.64 L229.59,612.55 L229.69,613.46 L229.79,614.37 L229.88,615.28 L229.98,616.19 L230.07,617.10 L230.16,618.01 L230.26,618.92 L230.35,619.83 L230.44,620.75 L230.53,621.66 L230.62,622.58 L230.70,623.49 L230.79,624.41 L230.88,625.33 L230.96,626.25 L231.05,627.17 L231.13,628.09 L231.22,629.01 L231.30,629.93 L231.38,630.85 L231.46,631.77 L231.54,632.70 L231.62,633.62 L231.70,634.55 L231.78,635.47 L231.86,636.40 L231.94,637.33 L232.01,638.25 L232.09,639.18 L232.16,640.11 L232.24,641.04 L232.31,641.97 L232.39,642.90 L232.46,643.83 L232.53,644.76 L232.60,645.70 L232.68,646.63 L232.75,647.56 L232.82,648.50 L232.89,649.43 L232.95,650.37 L233.02,651.30 L233.09,652.24 L233.16,653.17 L233.22,654.11 L233.29,655.05 L233.36,655.99 L233.42,656.93 L233.49,657.87 L233.55,658.80 L233.61,659.75 L233.68,660.69 L233.74,661.63 L233.80,662.57 L233.86,663.51 L233.93,664.45 L233.99,665.40 L234.05,666.34 L234.11,667.28 L234.17,668.23 L234.23,669.17 L234.28,670.12 L234.34,671.06 L234.40,672.01 L234.46,672.96 L234.51,673.90 L234.57,674.85 L234.63,675.80 L234.68,676.75 L234.74,677.69 L234.79,678.64 L234.85,679.59 L234.90,680.54 L234.95,681.49 L235.01,682.44 L235.06,683.39 L235.11,684.34 L235.16,685.30 L235.22,686.25 L235.27,687.20 L235.32,688.15 L235.37,689.11 L235.42,690.06 L235.47,691.01 L235.52,691.97 L235.57,692.92 L235.62,693.87 L235.67,694.83 L235.71,695.79 L235.76,696.74 L235.81,697.70 L235.86,698.65 L235.90,699.61 L235.95,700.57 L236.00,701.52 L236.04,702.48 L236.09,703.44 L236.13,704.40 L236.18,705.35 L236.22,706.31 L236.27,707.27 L236.31,708.23 L236.36,709.19 L236.40,710.15 L236.44,711.11 L236.49,712.07 L236.53,713.03 L236.57,713.99 L236.61,714.95 L236.65,715.91" stroke="#008000" stroke-dasharray="21.8 10.9 4.5 10.9" stroke-dashoffset="47.49"/>
<path d="M249.16,25 L249.16,705" stroke="#008000" stroke-dasharray="21.8 10.9 4.5 10.9" stroke-dashoffset="23.25"/>
<path d="M257.99,9.21 L258.01,10.19 L258.03,11.17 L258.05,12.15 L258.07,13.13 L258.10,14.11 L258.12,15.09 L258.14,16.07 L258.16,17.05 L258.18,18.03 L258.21,19.01 L258.23,19.99 L258.25,20.97 L258.27,21.95 L258.29,22.93 L258.32,23.91 L258.34,24.89 L258.36,25.87 L258.39,26.85 L258.41,27.83 L258.43,28.81 L258.46,29.79 L258.48,30.77 L258.50,31.75 L258.53,32.73 L258.55,33.71 L258.57,34.68 L258.60,35.66 L258.62,36.64 L258.65,37.62 L258.67,38.60 L258.70,39.58 L258.72,40.55 L258.75,41.53 L258.77,42.51 L258.80,43.49 L258.82,44.46 L258.85,45.44 L258.87,46.42 L258.90,47.39 L258.92,48.37 L258.95,49.35 L258.97,50.33 L259.00,51.30 L259.03,52.28 L259.05,53.25 L259.08,54.23 L259.11,55.21 L259.13,56.18 L259.16,57.16 L259.19,58.13 L259.21,59.11 L259.24,60.08 L259.27,61.06 L259.30,62.03 L259.33,63.01 L259.35,63.98 L259.38,64.96 L259.41,65.93 L259.44,66.91 L259.47,67.88 L259.50,68.86 L259.52,69.83 L259.55,70.80 L259.58,71.78 L259.61,72.75 L259.64,73.72 L259.67,74.70 L259.70,75.67 L259.73,76.64 L259.76,77.61 L259.79,78.59 L259.82,79.56 L259.85,80.53 L259.88,81.50 L259.91,82.47 L259.95,83.45 L259.98,84.42 L260.01,85.39 L260.04,86.36 L260.07,87.33 L260.10,88.30 L260.14,89.27 L260.17,90.24 L260.20,91.21 L260.24,92.18 L260.27,93.15 L260.30,94.12 L260.34,95.09 L260.37,96.06 L260.40,97.03 L260.44,98.00 L260.47,98.97 L260.51,99.94 L260.54,100.90 L260.58,101.87 L260.61,102.84 L260.65,103.81 L260.68,104.78 L260.72,105.74 L260.75,106.71 L260.79,107.68 L260.83,108.64 L260.86,109.61 L260.90,110.58 L260.94,111.54 L260.97,112.51 L261.01,113.47 L261.05,114.44 L261.09,115.40 L261.12,116.37 L261.16,117.33 L261.20,118.30 L261.24,119.26 L261.28,120.23 L261.32,121.19 L261.36,122.15 L261.40,123.12 L261.44,124.08 L261.48,125.04 L261.52,126.00 L261.56,126.97 L261.60,127.93 L261.64,128.89 L261.69,129.85 L261.73,130.81 L261.77,131.77 L261.81,132.73 L261.86,133.69 L261.90,134.65 L261.94,135.61 L261.99,136.57 L262.03,137.53 L262.07,138.49 L262.12,139.45 L262.16,140.41 L262.21,141.37 L262.26,142.33 L262.30,143.28 L262.35,144.24 L262.39,145.20 L262.44,146.15 L262.49,147.11 L262.54,148.07 L262.58,149.02 L262.63,149.98 L262.68,150.93 L262.73,151.89 L262.78,152.84 L262.83,153.80 L262.88,154.75 L262.93,155.70 L262.98,156.66 L263.03,157.61 L263.08,158.56 L263.13,159.51 L263.18,160.46 L263.23,161.42 L263.29,162.37 L263.34,163.32 L263.39,164.27 L263.45,165.22 L263.50,166.17 L263.56,167.12 L263.61,168.06 L263.67,169.01 L263.72,169.96 L263.78,170.91 L263.84,171.85 L263.89,172.80 L263.95,173.75 L264.01,174.69 L264.07,175.64 L264.13,176.58 L264.19,177.53 L264.25,178.47 L264.31,179.42 L264.37,180.36 L264.43,181.30 L264.49,182.24 L264.55,183.19 L264.61,184.13 L264.68,185.07 L264.74,186.01 L264.80,186.95 L264.87,187.89 L264.93,188.83 L265.00,189.76 L265.07,190.70 L265.13,191.64 L265.20,192.58 L265.27,193.51 L265.33,194.45 L265.40,195.38 L265.47,196.32 L265.54,197.25 L265.61,198.19 L265.68,199.12 L265.76,200.05 L265.83,200.98 L265.90,201.92 L265.97,202.85 L266.05,203.78 L266.12,204.71 L266.20,205.63 L266.27,206.56 L266.35,207.49 L266.43,208.42 L266.51,209.34 L266.58,210.27 L266.66,211.19 L266.74,212.12 L266.82,213.04 L266.90,213.97 L266.99,214.89 L267.07,215.81 L267.15,216.73 L267.24,217.65 L267.32,218.57 L267.41,219.49 L267.49,220.41 L267.58,221.33 L267.67,222.24 L267.76,223.16 L267.85,224.07 L267.94,224.99 L268.03,225.90 L268.12,226.81 L268.21,227.72 L268.31,228.64 L268.40,229.55 L268.50,230.45 L268.59,231.36 L268.69,232.27 L268.79,233.18 L268.89,234.08 L268.99,234.99 L269.09,235.89 L269.19,236.79 L269.29,237.70 L269.40,238.60 L269.50,239.50 L269.61,240.40 L269.71,241.29 L269.82,242.19 L269.93,243.09 L270.04,243.98 L270.15,244.88 L270.26,245.77 L270.37,246.66 L270.49,247.55 L270.60,248.44 L270.72,249.33 L270.84,250.22 L270.96,251.10 L271.08,251.99 L271.20,252.87 L271.32,253.76 L271.44,254.64 L271.57,255.52 L271.70,256.40 L271.82,257.27 L271.95,258.15 L272.08,259.02 L272.21,259.90 L272.35,260.77 L272.48,261.64 L272.62,262.51 L272.75,263.38 L272.89,264.25 L273.03,265.11 L273.17,265.98 L273.32,266.84 L273.46,267.70 L273.61,268.56 L273.75,269.42 L273.90,270.27 L274.05,271.13 L274.21,271.98 L274.36,272.83 L274.52,273.68 L274.67,274.53 L274.83,275.37 L274.99,276.22 L275.16,277.06 L275.32,277.90 L275.49,278.74 L275.66,279.58 L275.83,280.41 L276.00,281.25 L276.17,282.08 L276.35,282.91 L276.53,283.74 L276.71,284.56 L276.89,285.39 L277.07,286.21 L277.26,287.03 L277.45,287.84 L277.64,288.66 L277.83,289.47 L278.03,290.28 L278.22,291.09 L278.42,291.90 L278.63,292.70 L278.83,293.50 L279.04,294.30 L279.25,295.10 L279.46,295.89 L279.67,296.68 L279.89,297.47 L280.11,298.26 L280.33,299.04 L280.56,299.83 L280.78,300.60 L281.01,301.38 L281.25,302.15 L281.48,302.92 L281.72,303.69 L281.96,304.46 L282.21,305.22 L282.45,305.98 L282.70,306.73 L282.96,307.48 L283.21,308.23 L283.47,308.98 L283.74,309.72 L284.00,310.46 L284.27,311.20 L284.55,311.93 L284.82,312.66 L285.10,313.39 L285.39,314.11 L285.67,314.83 L285.96,315.55 L286.26,316.26 L286.55,316.97 L286.86,317.67 L287.16,318.37 L287.47,319.07 L287.78,319.76 L288.10,320.45 L288.42,321.14 L288.74,321.82 L289.07,322.50 L289.41,323.17 L289.74,323.84 L290.09,324.51 L290.43,325.17 L290.78,325.82 L291.14,326.47 L291.49,327.12 L291.86,327.76 L292.23,328.40 L292.60,329.04 L292.98,329.66 L293.36,330.29 L293.74,330.91 L294.14,331.52 L294.53,332.13 L294.93,332.74 L295.34,333.34 L295.75,333.93 L296.17,334.52 L296.59,335.11 L297.02,335.68 L297.45,336.26 L297.89,336.83 L298.33,337.39 L298.78,337.95 L299.23,338.50 L299.69,339.05 L300.16,339.59 L300.63,340.12 L301.10,340.65 L301.58,341.18 L302.07,341.70 L302.57,342.21 L303.06,342.72 L303.57,343.22 L304.08,343.71 L304.60,344.20 L305.12,344.68 L305.65,345.16 L306.19,345.63 L306.73,346.09 L307.27,346.55 L307.83,347.00 L308.39,347.45 L308.95,347.89 L309.53,348.32 L310.11,348.75 L310.69,349.17 L311.28,349.58 L311.88,349.99 L312.49,350.39 L313.10,350.79 L313.71,351.17 L314.34,351.55 L314.97,351.93 L315.61,352.30 L316.25,352.66 L316.90,353.01 L317.56,353.36 L318.22,353.70 L318.89,354.04 L319.57,354.36 L320.25,354.69 L320.94,355.00 L321.64,355.31 L322.34,355.61 L323.05,355.90 L323.77,356.19 L324.49,356.47 L325.23,356.75 L325.96,357.01 L326.71,357.27 L327.46,357.53 L328.21,357.78 L328.98,358.02 L329.75,358.25 L330.52,358.48 L331.31,358.70 L332.10,358.91 L332.89,359.12 L333.70,359.32 L334.51,359.52 L335.32,359.70 L336.14,359.89 L336.97,360.06 L337.81,360.23 L338.65,360.39 L339.50,360.55 L340.35,360.70 L341.21,360.84 L342.08,360.97 L342.96,361.10 L343.84,361.23 L344.72,361.35 L345.61,361.46 L346.51,361.56 L347.42,361.66 L348.33,361.76 L349.24,361.84 L350.16,361.92 L351.09,362.00 L352.01,362.07 L352.94,362.13 L353.86,362.19 L354.79,362.24 L355.71,362.28 L356.63,362.32 L357.56,362.35 L358.48,362.38 L359.41,362.40 L360.33,362.42 L361.26,362.44 L362.18,362.44 L363.10,362.45 L364.03,362.45 L364.95,362.44 L365.88,362.43 L366.80,362.41 L367.73,362.40 L368.65,362.37 L369.57,362.35 L370.50,362.31 L371.42,362.28 L372.35,362.24 L373.27,362.20 L374.20,362.15 L375.12,362.10 L376.04,362.05 L376.97,361.99 L377.89,361.93 L378.82,361.87 L379.74,361.80 L380.67,361.73 L381.59,361.65 L382.51,361.58 L383.43,361.50 L384.35,361.42 L385.26,361.33 L386.17,361.24 L387.08,361.15 L387.99,361.06 L388.89,360.97 L389.79,360.87 L390.69,360.77 L391.59,360.67 L392.48,360.56 L393.37,360.46 L394.27,360.35 L395.15,360.24 L396.04,360.12 L396.92,360.01 L397.81,359.89 L398.69,359.78 L399.57,359.66 L400.44,359.53 L401.32,359.41 L402.19,359.28 L403.06,359.16 L403.93,359.03 L404.80,358.90 L405.67,358.77 L406.53,358.63 L407.40,358.50 L408.26,358.36 L409.12,358.22 L409.98,358.08 L410.84,357.94 L411.70,357.80 L412.55,357.65 L413.40,357.51 L414.26,357.36 L415.11,357.21 L415.96,357.06 L416.80,356.91 L417.65,356.76 L418.50,356.61 L419.34,356.45 L420.19,356.29 L421.03,356.14 L421.87,355.98 L422.71,355.82 L423.55,355.66 L424.38,355.50 L425.22,355.33 L426.06,355.17 L426.89,355.00 L427.72,354.84 L428.55,354.67 L429.39,354.50 L430.22,354.33 L431.04,354.16 L431.87,353.99 L432.70,353.82 L433.53,353.65 L434.35,353.47 L435.17,353.30 L436.00,353.12 L436.82,352.94 L437.64,352.76 L438.46,352.58 L439.28,352.40 L440.10,352.22 L440.92,352.04 L441.73,351.86 L442.55,351.68 L443.36,351.49 L444.18,351.31 L444.99,351.12 L445.80,350.93 L446.62,350.74 L447.43,350.56 L448.24,350.37 L449.05,350.18 L449.85,349.98 L450.66,349.79 L451.47,349.60 L452.28,349.41 L453.08,349.21 L453.89,349.02 L454.69,348.82 L455.49,348.63 L456.29,348.43 L457.10,348.23 L457.90,348.03 L458.70,347.83 L459.50,347.63 L460.30,347.43 L461.09,347.23 L461.89,347.03 L462.69,346.83 L463.48,346.62 L464.28,346.42 L465.07,346.21 L465.87,346.01 L466.66,345.80 L467.45,345.60 L468.25,345.39 L469.04,345.18 L469.83,344.97 L470.62,344.76 L471.41,344.55 L472.20,344.34 L472.99,344.13 L473.77,343.92 L474.56,343.71 L475.35,343.49 L476.13,343.28 L476.92,343.06 L477.70,342.85 L478.49,342.63 L479.27,342.42 L480.06,342.20 L480.84,341.98 L481.62,341.77 L482.40,341.55 L483.18,341.33 L483.96,341.11 L484.74,340.89 L485.52,340.67 L486.30,340.45 L487.08,340.23 L487.85,340.00 L488.63,339.78 L489.41,339.56 L490.18,339.33 L490.96,339.11 L491.73,338.89 L492.51,338.66 L493.28,338.43 L494.05,338.21 L494.83,337.98 L495.60,337.75 L496.37,337.53 L497.14,337.30 L497.91,337.07 L498.68,336.84 L499.45,336.61 L500.22,336.38 L500.99,336.15 L501.76,335.92 L502.53,335.68 L503.29,335.45 L504.06,335.22 L504.83,334.98 L505.59,334.75 L506.36,334.52 L507.12,334.28 L507.89,334.05 L508.65,333.81 L509.41,333.57 L510.18,333.34 L510.94,333.10 L511.70,332.86 L512.46,332.62 L513.22,332.38 L513.98,332.15 L514.75,331.91 L515.50,331.67 L516.26,331.43 L517.02,331.19 L517.78,330.94 L518.54,330.70 L519.30,330.46 L520.05,330.22 L520.81,329.97 L521.57,329.73 L522.32,329.49 L523.08,329.24 L523.83,329.00 L524.59,328.75 L525.34,328.51 L526.09,328.26 L526.85,328.01 L527.60,327.77 L528.35,327.52 L529.10,327.27 L529.86,327.02 L530.61,326.77 L531.36,326.53 L532.11,326.28 L532.86,326.03 L533.61,325.78 L534.36,325.52 L535.10,325.27 L535.85,325.02 L536.60,324.77 L537.35,324.52 L538.09,324.26 L538.84,324.01 L539.59,323.76 L540.33,323.50 L541.08,323.25 L541.82,323.00 L542.57,322.74 L543.31,322.48 L544.06,322.23 L544.80,321.97 L545.54,321.72 L546.29,321.46 L547.03,321.20 L547.77,320.94 L548.51,320.68 L549.25,320.43 L549.99,320.17 L550.73,319.91 L551.47,319.65 L552.21,319.39 L552.95,319.13 L553.69,318.87 L554.43,318.60 L555.17,318.34 L555.90,318.08 L556.64,317.82 L557.38,317.55 L558.11,317.29 L558.85,317.03 L559.59,316.76 L560.32,316.50 L561.06,316.23 L561.79,315.97 L562.53,315.70 L563.26,315.44 L563.99,315.17 L564.73,314.91 L565.46,314.64 L566.19,314.37 L566.92,314.10 L567.66,313.84 L568.39,313.57 L569.12,313.30 L569.85,313.03 L570.58,312.76 L571.31,312.49 L572.04,312.22 L572.77,311.95 L573.50,311.68 L574.23,311.41 L574.95,311.14 L575.68,310.86 L576.41,310.59 L577.14,310.32 L577.86,310.05 L578.59,309.77 L579.31,309.50 L580.04,309.23 L580.77,308.95 L581.49,308.68 L582.22,308.40 L582.94,308.13 L583.66,307.85 L584.39,307.57 L585.11,307.30 L585.83,307.02 L586.56,306.74 L587.28,306.47 L588.00,306.19 L588.72,305.91 L589.44,305.63 L590.16,305.35 L590.89,305.07 L591.61,304.79 L592.33,304.51 L593.04,304.23 L593.76,303.95 L594.48,303.67 L595.20,303.39 L595.92,303.11 L596.64,302.83 L597.36,302.55 L598.07,302.26 L598.79,301.98 L599.51,301.70 L600.22,301.41 L600.94,301.13 L601.65,300.85 L602.37,300.56 L603.08,300.28 L603.80,299.99 L604.51,299.71 L605.23,299.42 L605.94,299.13 L606.65,298.85 L607.37,298.56 L608.08,298.27 L608.79,297.99 L609.50,297.70 L610.22,297.41 L610.93,297.12 L611.64,296.83 L612.35,296.54 L613.06,296.25 L613.77,295.96 L614.48,295.67 L615.19,295.38 L615.90,295.09 L616.61,294.80 L617.31,294.51 L618.02,294.22 L618.73,293.93 L619.44,293.63 L620.14,293.34 L620.85,293.05 L621.56,292.76 L622.26,292.46 L622.97,292.17 L623.68,291.87 L624.38,291.58 L625.09,291.29 L625.79,290.99 L626.50,290.69 L627.20,290.40 L627.90,290.10 L628.61,289.81 L629.31,289.51 L630.01,289.21 L630.72,288.92 L631.42,288.62 L632.12,288.32 L632.82,288.02 L633.52,287.72 L634.22,287.42 L634.92,287.13 L635.62,286.83 L636.32,286.53 L637.02,286.23 L637.72,285.93 L638.42,285.63 L639.12,285.32 L639.82,285.02 L640.52,284.72 L641.22,284.42 L641.91,284.12 L642.61,283.81 L643.31,283.51 L644.00,283.21 L644.70,282.91 L645.40,282.60 L646.09,282.30 L646.79,281.99 L647.48,281.69 L648.18,281.38 L648.87,281.08 L649.57,280.77 L650.26,280.47 L650.95,280.16 L651.65,279.85 L652.34,279.55 L653.03,279.24 L653.73,278.93 L654.42,278.63 L655.11,278.32 L655.80,278.01 L656.49,277.70 L657.18,277.39 L657.87,277.08 L658.56,276.77 L659.25,276.46 L659.94,276.15 L660.63,275.84 L661.32,275.53 L662.01,275.22 L662.70,274.91 L663.39,274.60 L664.08,274.29 L664.76,273.98 L665.45,273.66 L666.14,273.35 L666.83,273.04 L667.51,272.72 L668.20,272.41 L668.88,272.10 L669.57,271.78 L670.25,271.47 L670.94,271.15 L671.62,270.84 L672.31,270.52 L672.99,270.21 L673.68,269.89 L674.36,269.58 L675.04,269.26 L675.73,268.94 L676.41,268.62 L677.09,268.31 L677.77,267.99 L678.46,267.67 L679.14,267.35 L679.82,267.04 L680.50,266.72" stroke="#008000" stroke-dasharray="21.8 10.9 4.5 10.9" stroke-dashoffset="18.27"/>
</g>
<line x1="62" y1="34.7" x2="62" y2="691.4" stroke="#000" stroke-width="2"/>
<line x1="61" y1="472.3" x2="681" y2="472.3" stroke="#000" stroke-width="2"/>
<line x1="53.7" y1="35.50" x2="62" y2="35.50" stroke="#000" stroke-width="1.4"/>
<line x1="53.7" y1="253.90" x2="62" y2="253.90" stroke="#000" stroke-width="1.4"/>
<line x1="53.7" y1="472.30" x2="62" y2="472.30" stroke="#000" stroke-width="1.4"/>
<line x1="53.7" y1="690.70" x2="62" y2="690.70" stroke="#000" stroke-width="1.4"/>
<line x1="57.3" y1="144.70" x2="62" y2="144.70" stroke="#000" stroke-width="1.4"/>
<line x1="57.3" y1="363.10" x2="62" y2="363.10" stroke="#000" stroke-width="1.4"/>
<line x1="57.3" y1="581.50" x2="62" y2="581.50" stroke="#000" stroke-width="1.4"/>
<line x1="95.11" y1="472.3" x2="95.11" y2="476.80" stroke="#000" stroke-width="1.6"/>
<line x1="125.92" y1="472.3" x2="125.92" y2="476.80" stroke="#000" stroke-width="1.6"/>
<line x1="156.73" y1="472.3" x2="156.73" y2="476.80" stroke="#000" stroke-width="1.6"/>
<line x1="187.54" y1="472.3" x2="187.54" y2="476.80" stroke="#000" stroke-width="1.6"/>
<line x1="218.35" y1="472.3" x2="218.35" y2="480.60" stroke="#000" stroke-width="1.6"/>
<line x1="249.16" y1="472.3" x2="249.16" y2="476.80" stroke="#000" stroke-width="1.6"/>
<line x1="279.97" y1="472.3" x2="279.97" y2="476.80" stroke="#000" stroke-width="1.6"/>
<line x1="310.78" y1="472.3" x2="310.78" y2="476.80" stroke="#000" stroke-width="1.6"/>
<line x1="341.59" y1="472.3" x2="341.59" y2="476.80" stroke="#000" stroke-width="1.6"/>
<line x1="372.40" y1="472.3" x2="372.40" y2="480.60" stroke="#000" stroke-width="1.6"/>
<line x1="403.21" y1="472.3" x2="403.21" y2="476.80" stroke="#000" stroke-width="1.6"/>
<line x1="434.02" y1="472.3" x2="434.02" y2="476.80" stroke="#000" stroke-width="1.6"/>
<line x1="464.83" y1="472.3" x2="464.83" y2="476.80" stroke="#000" stroke-width="1.6"/>
<line x1="495.64" y1="472.3" x2="495.64" y2="476.80" stroke="#000" stroke-width="1.6"/>
<line x1="526.45" y1="472.3" x2="526.45" y2="480.60" stroke="#000" stroke-width="1.6"/>
<line x1="557.26" y1="472.3" x2="557.26" y2="476.80" stroke="#000" stroke-width="1.6"/>
<line x1="588.07" y1="472.3" x2="588.07" y2="476.80" stroke="#000" stroke-width="1.6"/>
<line x1="618.88" y1="472.3" x2="618.88" y2="476.80" stroke="#000" stroke-width="1.6"/>
<line x1="649.69" y1="472.3" x2="649.69" y2="476.80" stroke="#000" stroke-width="1.6"/>
<line x1="680.50" y1="472.3" x2="680.50" y2="480.60" stroke="#000" stroke-width="1.6"/>
<g font-family="Liberation Serif, serif" fill="#000" style="filter:grayscale(1)">
<text x="339.1" y="15.5" font-size="23" textLength="26.35">1.5</text>
<text x="20" y="107.3" font-size="39">C</text>
<text x="17.6" y="44.6" font-size="23" textLength="33.4">200</text>
<text x="17.6" y="263.1" font-size="23">100</text>
<text x="39.5" y="481.5" font-size="23">0</text>
<text x="17.6" y="699.9" font-size="23">100</text>
<text x="204.8" y="503" font-size="23" textLength="26.85">0.5</text>
<text x="366.7" y="503.5" font-size="23">1</text>
<text x="512.6" y="503.4" font-size="23" textLength="26.75">1.5</text>
<text x="673.3" y="502.8" font-size="23">2</text>
<text x="367.7" y="526.7" font-size="20" font-style="italic">x</text>
<text x="376.5" y="536" font-size="23">+</text>
<text x="396.7" y="356.2" font-size="23">1</text>
<text x="441.9" y="262.8" font-size="23">4</text>
<text x="452.5" y="262.8" font-size="23">/</text>
<text x="458.5" y="262.8" font-size="23">3</text>
<text x="460.3" y="197.2" font-size="23">3</text>
<text x="471.2" y="197.2" font-size="23">/</text>
<text x="477.1" y="197.2" font-size="23">2</text>
<rect x="0" y="692" width="14.5" height="2" fill="#000"/>
<g transform="translate(303.0,15.7)"><path d="M10.70,-5.60 L10.63,-4.72 L10.44,-3.87 L10.12,-3.06 L9.68,-2.31 L9.13,-1.64 L8.49,-1.07 L7.78,-0.61 L7.00,-0.27 L6.19,-0.07 L5.35,0.00 L4.51,-0.07 L3.70,-0.27 L2.92,-0.61 L2.21,-1.07 L1.57,-1.64 L1.02,-2.31 L0.58,-3.06 L0.26,-3.87 L0.07,-4.72 L0.00,-5.60 L0.07,-6.48 L0.26,-7.33 L0.58,-8.14 L1.02,-8.89 L1.57,-9.56 L2.21,-10.13 L2.92,-10.59 L3.70,-10.93 L4.51,-11.13 L5.35,-11.20 L6.19,-11.13 L7.00,-10.93 L7.78,-10.59 L8.49,-10.13 L9.13,-9.56 L9.68,-8.89 L10.12,-8.14 L10.44,-7.33 L10.63,-6.48 Z M8.08,-5.11 L8.12,-5.74 L8.10,-6.37 L8.00,-6.97 L7.84,-7.54 L7.61,-8.05 L7.33,-8.50 L7.00,-8.88 L6.63,-9.17 L6.22,-9.37 L5.79,-9.47 L5.35,-9.47 L4.91,-9.38 L4.48,-9.19 L4.07,-8.90 L3.68,-8.53 L3.34,-8.09 L3.05,-7.58 L2.81,-7.02 L2.63,-6.42 L2.52,-5.79 L2.48,-5.16 L2.50,-4.53 L2.60,-3.93 L2.76,-3.36 L2.99,-2.85 L3.27,-2.40 L3.60,-2.02 L3.97,-1.73 L4.38,-1.53 L4.81,-1.43 L5.25,-1.43 L5.69,-1.52 L6.12,-1.71 L6.53,-2.00 L6.92,-2.37 L7.26,-2.81 L7.55,-3.32 L7.79,-3.88 L7.97,-4.48 Z" fill-rule="evenodd"/><path d="M4.9,-11.7 L11.5,-11.7 A0.9,0.9 0 0 1 11.5,-9.9 L4.9,-9.9 Z"/></g>
<g transform="translate(370.1,356.4)"><path d="M10.70,-5.60 L10.63,-4.72 L10.44,-3.87 L10.12,-3.06 L9.68,-2.31 L9.13,-1.64 L8.49,-1.07 L7.78,-0.61 L7.00,-0.27 L6.19,-0.07 L5.35,0.00 L4.51,-0.07 L3.70,-0.27 L2.92,-0.61 L2.21,-1.07 L1.57,-1.64 L1.02,-2.31 L0.58,-3.06 L0.26,-3.87 L0.07,-4.72 L0.00,-5.60 L0.07,-6.48 L0.26,-7.33 L0.58,-8.14 L1.02,-8.89 L1.57,-9.56 L2.21,-10.13 L2.92,-10.59 L3.70,-10.93 L4.51,-11.13 L5.35,-11.20 L6.19,-11.13 L7.00,-10.93 L7.78,-10.59 L8.49,-10.13 L9.13,-9.56 L9.68,-8.89 L10.12,-8.14 L10.44,-7.33 L10.63,-6.48 Z M8.08,-5.11 L8.12,-5.74 L8.10,-6.37 L8.00,-6.97 L7.84,-7.54 L7.61,-8.05 L7.33,-8.50 L7.00,-8.88 L6.63,-9.17 L6.22,-9.37 L5.79,-9.47 L5.35,-9.47 L4.91,-9.38 L4.48,-9.19 L4.07,-8.90 L3.68,-8.53 L3.34,-8.09 L3.05,-7.58 L2.81,-7.02 L2.63,-6.42 L2.52,-5.79 L2.48,-5.16 L2.50,-4.53 L2.60,-3.93 L2.76,-3.36 L2.99,-2.85 L3.27,-2.40 L3.60,-2.02 L3.97,-1.73 L4.38,-1.53 L4.81,-1.43 L5.25,-1.43 L5.69,-1.52 L6.12,-1.71 L6.53,-2.00 L6.92,-2.37 L7.26,-2.81 L7.55,-3.32 L7.79,-3.88 L7.97,-4.48 Z" fill-rule="evenodd"/><path d="M4.9,-11.7 L11.5,-11.7 A0.9,0.9 0 0 1 11.5,-9.9 L4.9,-9.9 Z"/></g>
<g transform="translate(415.1,262.9)"><path d="M10.70,-5.60 L10.63,-4.72 L10.44,-3.87 L10.12,-3.06 L9.68,-2.31 L9.13,-1.64 L8.49,-1.07 L7.78,-0.61 L7.00,-0.27 L6.19,-0.07 L5.35,0.00 L4.51,-0.07 L3.70,-0.27 L2.92,-0.61 L2.21,-1.07 L1.57,-1.64 L1.02,-2.31 L0.58,-3.06 L0.26,-3.87 L0.07,-4.72 L0.00,-5.60 L0.07,-6.48 L0.26,-7.33 L0.58,-8.14 L1.02,-8.89 L1.57,-9.56 L2.21,-10.13 L2.92,-10.59 L3.70,-10.93 L4.51,-11.13 L5.35,-11.20 L6.19,-11.13 L7.00,-10.93 L7.78,-10.59 L8.49,-10.13 L9.13,-9.56 L9.68,-8.89 L10.12,-8.14 L10.44,-7.33 L10.63,-6.48 Z M8.08,-5.11 L8.12,-5.74 L8.10,-6.37 L8.00,-6.97 L7.84,-7.54 L7.61,-8.05 L7.33,-8.50 L7.00,-8.88 L6.63,-9.17 L6.22,-9.37 L5.79,-9.47 L5.35,-9.47 L4.91,-9.38 L4.48,-9.19 L4.07,-8.90 L3.68,-8.53 L3.34,-8.09 L3.05,-7.58 L2.81,-7.02 L2.63,-6.42 L2.52,-5.79 L2.48,-5.16 L2.50,-4.53 L2.60,-3.93 L2.76,-3.36 L2.99,-2.85 L3.27,-2.40 L3.60,-2.02 L3.97,-1.73 L4.38,-1.53 L4.81,-1.43 L5.25,-1.43 L5.69,-1.52 L6.12,-1.71 L6.53,-2.00 L6.92,-2.37 L7.26,-2.81 L7.55,-3.32 L7.79,-3.88 L7.97,-4.48 Z" fill-rule="evenodd"/><path d="M4.9,-11.7 L11.5,-11.7 A0.9,0.9 0 0 1 11.5,-9.9 L4.9,-9.9 Z"/></g>
<g transform="translate(434.4,197.5)"><path d="M10.70,-5.60 L10.63,-4.72 L10.44,-3.87 L10.12,-3.06 L9.68,-2.31 L9.13,-1.64 L8.49,-1.07 L7.78,-0.61 L7.00,-0.27 L6.19,-0.07 L5.35,0.00 L4.51,-0.07 L3.70,-0.27 L2.92,-0.61 L2.21,-1.07 L1.57,-1.64 L1.02,-2.31 L0.58,-3.06 L0.26,-3.87 L0.07,-4.72 L0.00,-5.60 L0.07,-6.48 L0.26,-7.33 L0.58,-8.14 L1.02,-8.89 L1.57,-9.56 L2.21,-10.13 L2.92,-10.59 L3.70,-10.93 L4.51,-11.13 L5.35,-11.20 L6.19,-11.13 L7.00,-10.93 L7.78,-10.59 L8.49,-10.13 L9.13,-9.56 L9.68,-8.89 L10.12,-8.14 L10.44,-7.33 L10.63,-6.48 Z M8.08,-5.11 L8.12,-5.74 L8.10,-6.37 L8.00,-6.97 L7.84,-7.54 L7.61,-8.05 L7.33,-8.50 L7.00,-8.88 L6.63,-9.17 L6.22,-9.37 L5.79,-9.47 L5.35,-9.47 L4.91,-9.38 L4.48,-9.19 L4.07,-8.90 L3.68,-8.53 L3.34,-8.09 L3.05,-7.58 L2.81,-7.02 L2.63,-6.42 L2.52,-5.79 L2.48,-5.16 L2.50,-4.53 L2.60,-3.93 L2.76,-3.36 L2.99,-2.85 L3.27,-2.40 L3.60,-2.02 L3.97,-1.73 L4.38,-1.53 L4.81,-1.43 L5.25,-1.43 L5.69,-1.52 L6.12,-1.71 L6.53,-2.00 L6.92,-2.37 L7.26,-2.81 L7.55,-3.32 L7.79,-3.88 L7.97,-4.48 Z" fill-rule="evenodd"/><path d="M4.9,-11.7 L11.5,-11.7 A0.9,0.9 0 0 1 11.5,-9.9 L4.9,-9.9 Z"/></g>
<rect x="321.8" y="5.65" width="11.60" height="1.1"/><rect x="321.8" y="9.25" width="11.60" height="1.1"/>
<rect x="384.2" y="346.35" width="11.90" height="1.1"/><rect x="384.2" y="349.95" width="11.90" height="1.1"/>
<rect x="429.8" y="252.95" width="11.20" height="1.1"/><rect x="429.8" y="256.55" width="11.20" height="1.1"/>
<rect x="448.2" y="187.35" width="11.80" height="1.1"/><rect x="448.2" y="190.95" width="11.80" height="1.1"/>
</g>
</svg>
</body></html>
